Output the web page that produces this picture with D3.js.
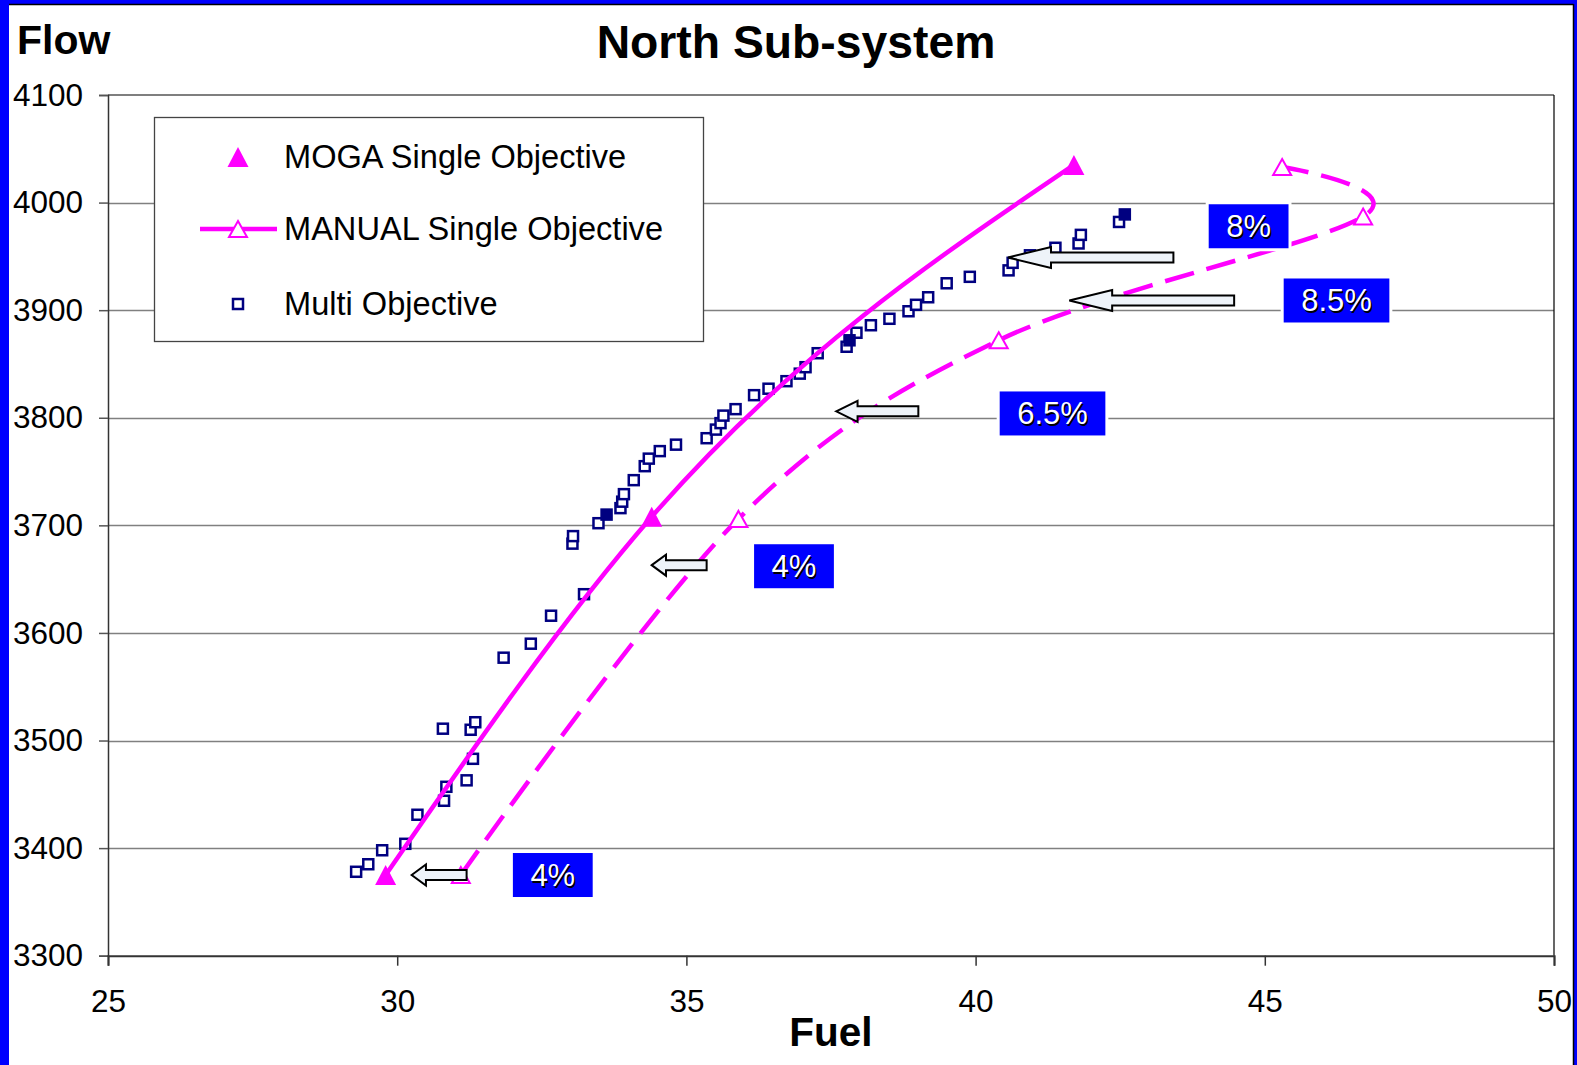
<!DOCTYPE html>
<html>
<head>
<meta charset="utf-8">
<script src="https://cdn.jsdelivr.net/npm/d3@7"></script>
<style>
  html, body { margin: 0; padding: 0; background: #0000ff; }
  svg { display: block; }
  text { font-family: Arial, "Liberation Sans", sans-serif; }
</style>
</head>
<body>
<svg id="chart" width="1577" height="1065"></svg>
<script>
// MOGA single-objective optima (Fuel, Flow)
const mogaFuel = [29.8, 34.4, 41.7];
const mogaFlow = [3375, 3708, 4035];

// Manual single-objective operating points
const manualFuel = [31.1, 35.9, 40.4, 46.7, 45.3];
const manualFlow = [3375, 3706, 3872, 3987, 4033];

// Multi-objective trade-off front
const multiFuel = [29.29, 29.50, 29.74, 30.14, 30.35, 30.81, 30.85, 31.20, 31.31, 30.79,
  31.27, 31.35, 31.84, 32.31, 32.66, 33.23, 33.03, 33.04, 33.48, 33.86,
  33.89, 33.92, 34.09, 34.28, 34.35, 34.54, 34.82, 35.35, 35.51, 35.59,
  35.64, 35.85, 36.17, 36.42, 36.73, 36.96, 37.06, 37.27, 37.77, 37.94,
  38.19, 38.51, 38.84, 38.97, 39.18, 39.50, 39.90, 40.57, 40.64, 40.94,
  41.38, 41.78, 41.82, 42.48];
const multiFlow = [3378, 3385, 3398, 3404, 3431, 3444, 3457, 3463, 3483, 3511,
  3510, 3517, 3577, 3590, 3616, 3636, 3683, 3690, 3702, 3716,
  3722, 3729, 3742, 3755, 3762, 3769, 3775, 3781, 3789, 3795,
  3802, 3808, 3821, 3827, 3834, 3841, 3847, 3860, 3866, 3879,
  3886, 3892, 3899, 3905, 3912, 3925, 3931, 3937, 3944, 3951,
  3958, 3962, 3970, 3982];

// Multi-objective solutions picked for comparison
const pickFuel = [33.62, 37.82, 42.58];
const pickFlow = [3710, 3872, 3989];

// Fuel saving callouts
const savingText = ["4%", "4%", "6.5%", "8%", "8.5%"];
const savingFuel = [32.69, 36.86, 41.33, 44.72, 46.24];
const savingFlow = [3375, 3662, 3804, 3978, 3909];

// Saving arrows (tail -> tip, pointing to lower fuel)
const arrowTailFuel = [31.20, 35.35, 39.01, 43.42, 44.47];
const arrowTipFuel = [30.25, 34.40, 37.59, 40.56, 41.62];
const arrowFlow = [3375, 3663, 3806, 3949, 3909];

// Axis ticks
const xTicks = [25, 30, 35, 40, 45, 50];
const yTicks = [3300, 3400, 3500, 3600, 3700, 3800, 3900, 4000, 4100];

const legendLabels = ["MOGA Single Objective", "MANUAL Single Objective", "Multi Objective"];

const MAGENTA = "#ff00ff";
const NAVY = "#000080";

const svg = d3.select("#chart");

// page frame
svg.append("rect").attr("x", 9).attr("y", 4).attr("width", 1565).attr("height", 1065).attr("fill", "#fff");
svg.append("line").attr("x1", 9).attr("x2", 1573.5).attr("y1", 4.5).attr("y2", 4.5).attr("stroke", "#000").attr("stroke-width", 1.5);
svg.append("line").attr("x1", 1573.5).attr("x2", 1573.5).attr("y1", 4).attr("y2", 1065).attr("stroke", "#000").attr("stroke-width", 1.5);

const plot = { left: 108, right: 1554, top: 95, bottom: 955.7 };
const x = d3.scaleLinear().domain([25, 50]).range([plot.left, plot.right]);
const y = d3.scaleLinear().domain([3300, 4100]).range([plot.bottom, plot.top]);

// horizontal gridlines
svg.append("g")
  .selectAll("line")
  .data(yTicks.slice(1, -1))
  .join("line")
  .attr("x1", plot.left).attr("x2", plot.right)
  .attr("y1", d => Math.round(y(d)) + 0.5).attr("y2", d => Math.round(y(d)) + 0.5)
  .attr("stroke", "#808080").attr("stroke-width", 1.3);

// plot frame: top and right
svg.append("line").attr("x1", plot.left).attr("x2", plot.right).attr("y1", plot.top).attr("y2", plot.top)
  .attr("stroke", "#000").attr("stroke-width", 1.2);
svg.append("line").attr("x1", plot.right).attr("x2", plot.right).attr("y1", plot.top).attr("y2", plot.bottom)
  .attr("stroke", "#000").attr("stroke-width", 1.2);

// y axis
const yAxis = svg.append("g")
  .attr("transform", `translate(${plot.left},0)`)
  .call(d3.axisLeft(y).tickValues(yTicks).tickSize(9).tickPadding(16).tickFormat(d3.format("d")));
yAxis.select(".domain").attr("stroke", "#333").attr("stroke-width", 1.5);
yAxis.selectAll(".tick line").attr("stroke", "#555").attr("stroke-width", 1.5);
yAxis.selectAll(".tick text")
  .attr("font-size", 31.5).attr("fill", "#000")
  .attr("font-family", "Arial, 'Liberation Sans', sans-serif");

// x axis
const xAxis = svg.append("g")
  .attr("transform", `translate(0,${plot.bottom})`)
  .call(d3.axisBottom(x).tickValues(xTicks).tickSize(10).tickPadding(24).tickFormat(d3.format("d")));
xAxis.select(".domain").attr("stroke", "#333").attr("stroke-width", 2);
xAxis.selectAll(".tick line").attr("stroke", "#333").attr("stroke-width", 1.5);
xAxis.selectAll(".tick text")
  .attr("font-size", 31.5).attr("fill", "#000")
  .attr("font-family", "Arial, 'Liberation Sans', sans-serif");

// titles
svg.append("text").attr("x", 796).attr("y", 58).attr("text-anchor", "middle")
  .attr("font-size", 46.3).attr("font-weight", "bold").text("North Sub-system");
svg.append("text").attr("x", 17).attr("y", 54)
  .attr("font-size", 41).attr("font-weight", "bold").text("Flow");
svg.append("text").attr("x", 831).attr("y", 1046).attr("text-anchor", "middle")
  .attr("font-size", 40.5).attr("font-weight", "bold").text("Fuel");

// marker shapes: triangles as tall as they are wide
function triangle(w, h) {
  const p = d3.path();
  p.moveTo(0, -h / 2);
  p.lineTo(w / 2, h / 2);
  p.lineTo(-w / 2, h / 2);
  p.closePath();
  return p.toString();
}
const triFilled = triangle(21, 20);
const triOpen = triangle(18, 16);

// legend
const legend = svg.append("g");
legend.append("rect").attr("x", 154.5).attr("y", 117.5).attr("width", 549).attr("height", 224)
  .attr("fill", "#fff").attr("stroke", "#444").attr("stroke-width", 1.3);

const rowY = [157, 229, 304];
legend.append("path").attr("d", triFilled).attr("transform", `translate(238,${rowY[0]})`).attr("fill", MAGENTA);
legend.append("line").attr("x1", 200).attr("x2", 277).attr("y1", rowY[1]).attr("y2", rowY[1])
  .attr("stroke", MAGENTA).attr("stroke-width", 4.5);
legend.append("path").attr("d", triOpen).attr("transform", `translate(238,${rowY[1]})`)
  .attr("fill", "#fff").attr("stroke", MAGENTA).attr("stroke-width", 2);
legend.append("rect").attr("x", 233).attr("y", rowY[2] - 5).attr("width", 10).attr("height", 10)
  .attr("fill", "#fff").attr("stroke", NAVY).attr("stroke-width", 2.5);
legend.selectAll("text.lbl")
  .data(legendLabels)
  .join("text")
  .attr("class", "lbl")
  .attr("x", 284).attr("y", (d, i) => rowY[i] + 11)
  .attr("font-size", 32.6).attr("fill", "#000")
  .text(d => d);

// multi-objective points
const multi = multiFuel.map((f, i) => ({ f, q: multiFlow[i] }));
svg.append("g").selectAll("rect")
  .data(multi)
  .join("rect")
  .attr("x", d => x(d.f) - 5).attr("y", d => y(d.q) - 5)
  .attr("width", 10).attr("height", 10)
  .attr("fill", "#fff").attr("stroke", NAVY).attr("stroke-width", 2.5);

const picks = pickFuel.map((f, i) => ({ f, q: pickFlow[i] }));
svg.append("g").selectAll("rect")
  .data(picks)
  .join("rect")
  .attr("x", d => x(d.f) - 5).attr("y", d => y(d.q) - 5)
  .attr("width", 10).attr("height", 10)
  .attr("fill", NAVY).attr("stroke", NAVY).attr("stroke-width", 2.5);

// MOGA curve
const moga = mogaFuel.map((f, i) => ({ f, q: mogaFlow[i] }));
svg.append("path")
  .datum(moga)
  .attr("d", d3.line().x(d => x(d.f)).y(d => y(d.q)).curve(d3.curveMonotoneX))
  .attr("fill", "none").attr("stroke", MAGENTA).attr("stroke-width", 4.5);
svg.append("g").selectAll("path")
  .data(moga)
  .join("path")
  .attr("d", triFilled)
  .attr("transform", d => `translate(${x(d.f)},${y(d.q)})`)
  .attr("fill", MAGENTA);

// manual curve
const manual = manualFuel.map((f, i) => ({ f, q: manualFlow[i] }));
svg.append("path")
  .datum(manual)
  .attr("d", d3.line().x(d => x(d.f)).y(d => y(d.q)).curve(d3.curveCardinal.tension(0)))
  .attr("fill", "none").attr("stroke", MAGENTA).attr("stroke-width", 4.5)
  .attr("stroke-dasharray", "30,13");
svg.append("g").selectAll("path")
  .data(manual)
  .join("path")
  .attr("d", triOpen)
  .attr("transform", d => `translate(${x(d.f)},${y(d.q)})`)
  .attr("fill", "#fff").attr("stroke", MAGENTA).attr("stroke-width", 2);

// saving arrows
const arrows = arrowTipFuel.map((tip, i) => ({ tip, tail: arrowTailFuel[i], q: arrowFlow[i] }));
svg.append("g").selectAll("path")
  .data(arrows)
  .join("path")
  .attr("d", d => {
    const x0 = x(d.tip), x1 = x(d.tail), yc = y(d.q);
    const head = (x1 - x0) * 0.26;
    const p = d3.path();
    p.moveTo(x0, yc);
    p.lineTo(x0 + head, yc - 10.5);
    p.lineTo(x0 + head, yc - 5);
    p.lineTo(x1, yc - 5);
    p.lineTo(x1, yc + 5);
    p.lineTo(x0 + head, yc + 5);
    p.lineTo(x0 + head, yc + 10.5);
    p.closePath();
    return p.toString();
  })
  .attr("fill", "#eef3f9").attr("stroke", "#000").attr("stroke-width", 2)
  .attr("stroke-linejoin", "miter");

// saving callouts
const callouts = svg.append("g").selectAll("g")
  .data(savingText.map((t, i) => ({ t, f: savingFuel[i], q: savingFlow[i] })))
  .join("g")
  .attr("transform", d => `translate(${x(d.f)},${y(d.q)})`);
callouts.each(function (d) {
  const g = d3.select(this);
  const rect = g.append("rect");
  g.append("text").attr("x", 1.5).attr("y", 12.5)
    .attr("text-anchor", "middle").attr("font-size", 31).attr("fill", "#000").text(d.t);
  const label = g.append("text").attr("x", 0).attr("y", 11)
    .attr("text-anchor", "middle").attr("font-size", 31).attr("fill", "#fff").text(d.t);
  const w = label.node().getComputedTextLength() + 38;
  rect.attr("x", -w / 2).attr("y", -23.5).attr("width", w).attr("height", 47)
    .attr("fill", "#0000ff").attr("stroke", "#fff").attr("stroke-width", 3);
});
</script>
</body>
</html>
